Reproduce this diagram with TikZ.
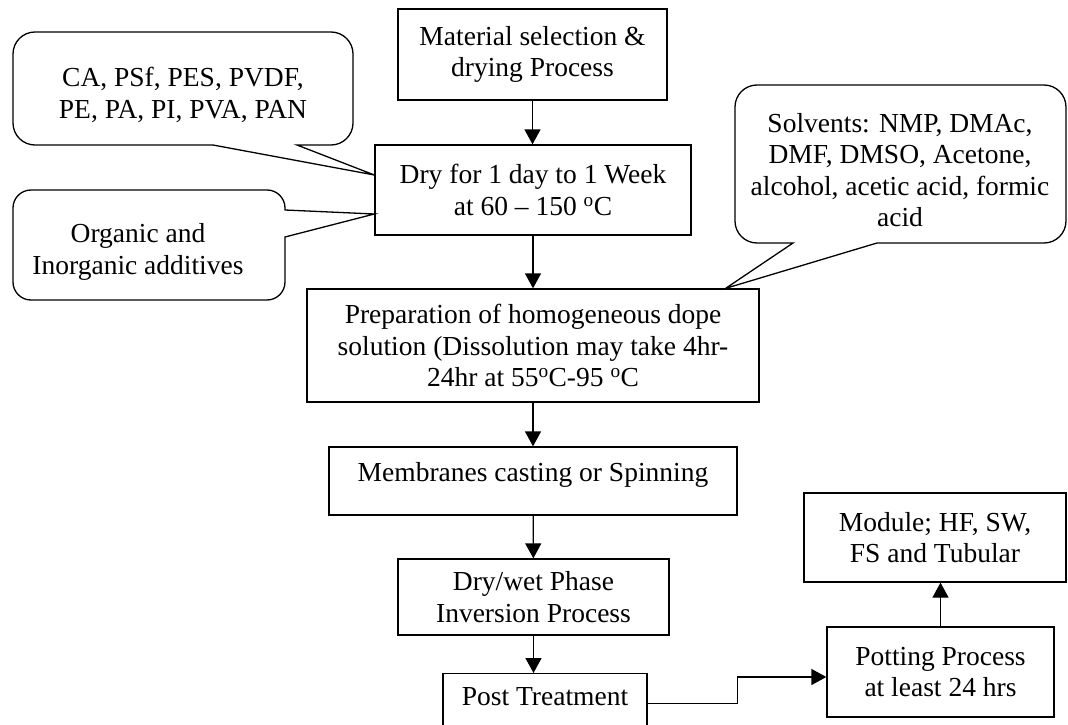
\documentclass[tikz,border=0pt]{standalone}
\usepackage{fontspec}
\setmainfont{Liberation Serif}
\usetikzlibrary{arrows.meta}

\tikzset{
	box/.style={draw, line width=1.3pt, align=center, inner sep=2pt},
	note/.style={align=center},
	bubble/.style={draw, line width=1.3pt},
	flow/.style={line width=1.3pt, -{Triangle[length=15pt,width=16pt]}},
}

\begin{document}
\begin{tikzpicture}[x=1pt, y=-1pt, font=\fontsize{27.5}{31.5}\selectfont]
	\useasboundingbox (0,0) rectangle (1068,725);
	%
	\node[box, minimum width=269pt, minimum height=91pt] (mat) at (532.5,54.5) {Material selection \&\\drying Process};
	\node[box, minimum width=316pt, minimum height=90pt] (dry) at (533,190) {Dry for 1 day to 1 Week\\at 60 -- 150 \textsuperscript{o}C};
	\node[box, minimum width=452pt, minimum height=113pt] (prep) at (533,345.5) {Preparation of homogeneous dope\\solution (Dissolution may take 4hr-\\24hr at 55\textsuperscript{o}C-95 \textsuperscript{o}C};
	\node[box, minimum width=408pt, minimum height=68pt, text height=20pt, text depth=20pt] (memb) at (533,481) {Membranes casting or Spinning};
	\node[box, minimum width=271pt, minimum height=76pt] (inv) at (533.5,597) {Dry/wet Phase\\Inversion Process};
	\node[box, anchor=north, minimum width=204pt, minimum height=90pt, text height=14pt, text depth=40pt] (post) at (545,673) {Post Treatment};
	\node[box, minimum width=227pt, minimum height=90pt] (pot) at (940.5,672) {Potting Process\\at least 24 hrs};
	\node[box, minimum width=262pt, minimum height=89pt] (mod) at (935,537.5) {Module; HF, SW,\\FS and Tubular};
	%
	\node[note] (poly) at (183,95) {CA, PSf, PES, PVDF,\\PE, PA, PI, PVA, PAN};
	\node[note] (addv) at (138,252) {Organic and\\Inorganic additives};
	\node[note] (solv) at (900,170) {Solvents: NMP, DMAc,\\DMF, DMSO, Acetone,\\alcohol, acetic acid, formic\\acid};
	%
	\coordinate (t1) at ([yshift=15pt]dry.west);
	\coordinate (t2) at ([yshift=-24pt]dry.west);
	\coordinate (t3) at ([xshift=-34pt]prep.north east);
	%
	\draw[bubble] (t1) -- (297,145) [rounded corners=22pt] -- (353,145) -- (353,32) -- (13,32) -- (13,145) [sharp corners] -- (213,145) -- cycle;
	\draw[bubble] (t2) -- (285,237) [rounded corners=18pt] -- (285,300) -- (13,300) -- (13,190) -- (285,190) [sharp corners] -- (285,210) -- cycle;
	\draw[bubble] (t3) -- (793,243) [rounded corners=22pt] -- (735,243) -- (735,85) -- (1066,85) -- (1066,243) [sharp corners] -- (877,243) -- cycle;
	%
	\draw[flow] (mat.south) -- (mat.south |- dry.north);
	\draw[flow] (dry) -- (prep);
	\draw[flow] (prep) -- (memb);
	\draw[flow] (memb) -- (inv);
	\draw[flow] (inv.south) -- (inv.south |- post.north);
	\draw[flow] ([yshift=15pt]post.east) -- ++(90,0) |- ([yshift=-5pt]pot.west);
	\draw[flow] (pot.north) -- (pot.north |- mod.south);
\end{tikzpicture}
\end{document}
